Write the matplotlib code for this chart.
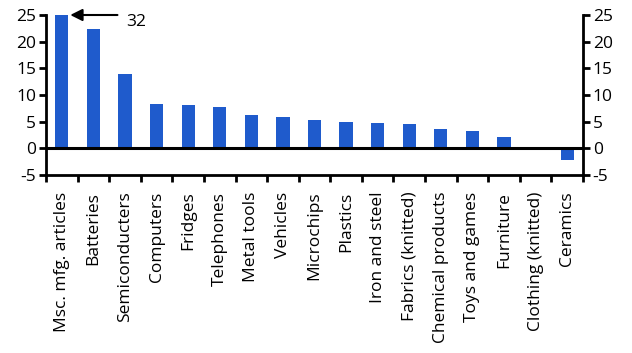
import matplotlib
matplotlib.use("Agg")
import matplotlib.pyplot as plt
import numpy as np

categories = ["Msc. mfg. articles", "Batteries", "Semiconducters", "Computers", "Fridges",
              "Telephones", "Metal tools", "Vehicles", "Microchips", "Plastics",
              "Iron and steel", "Fabrics (knitted)", "Chemical products", "Toys and games",
              "Furniture", "Clothing (knitted)", "Ceramics"]
values = [32, 22.3, 13.9, 8.4, 8.2, 7.7, 6.2, 5.8, 5.4, 4.9, 4.7, 4.5, 3.6, 3.2, 2.1, 0.0, -2.2]
yticks = [-5, 0, 5, 10, 15, 20, 25]

plt.rcParams['font.family'] = ['Open Sans', 'DejaVu Sans']
fig = plt.figure(figsize=(6.32, 3.53), dpi=100)
ax = fig.add_axes([46/632, 1-175/353, (583-46)/632, 160/353])

x = np.arange(len(categories))
ax.bar(x, values, width=0.42, color="#1f5bcc", zorder=2)
ax.set_ylim(-5, 25)
ax.set_xlim(-0.5, len(categories)-0.5)
ax.axhline(0, color="black", lw=2.2, zorder=3)

ax.set_yticks(yticks)
ax.set_yticklabels([str(v) for v in yticks])
ax.tick_params(axis='y', which='both', left=True, right=True, labelleft=True, labelright=True,
               direction='out', length=5, width=2, labelsize=12.5, pad=2)
ax.set_xticks(x)
ax.set_xticklabels(categories, rotation=90, fontsize=12.5)
ax.set_xticks(np.arange(len(categories)+1)-0.5, minor=True)
ax.tick_params(axis='x', which='major', length=0, pad=12)
ax.tick_params(axis='x', which='minor', length=5, width=2, direction='out')
for s in ['left', 'right', 'bottom']:
    ax.spines[s].set_linewidth(2)
ax.spines['top'].set_visible(False)

ax.annotate("", xy=(0.18, 25), xytext=(1.85, 25),
            arrowprops=dict(arrowstyle="-|>", color="black", lw=1.5, mutation_scale=18))
ax.text(2.05, 23.6, str(values[0]), fontsize=12.5, va='center', ha='left')

fig.savefig("out.png", dpi=100)
